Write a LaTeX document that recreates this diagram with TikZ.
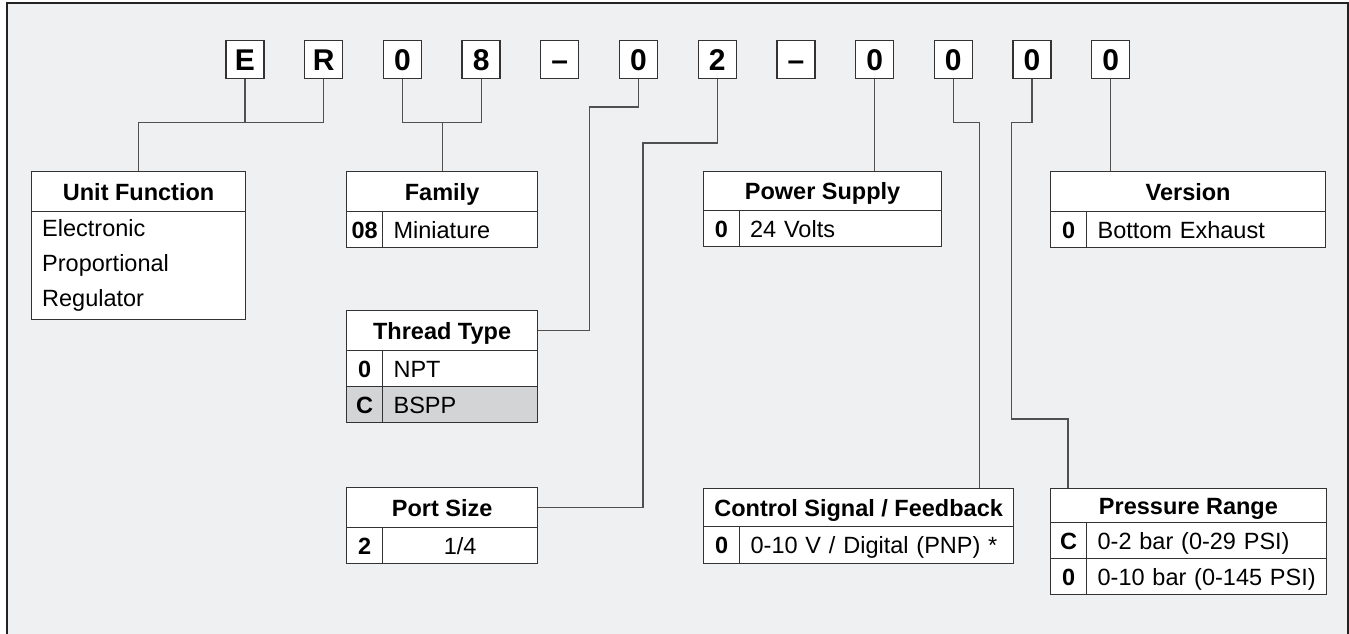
\documentclass[tikz,border=0pt]{standalone}
\usepackage{fontspec}
\setmainfont{Liberation Sans}
\definecolor{bg}{HTML}{EFF0F2}
\definecolor{boxc}{HTML}{333333}
\definecolor{linec}{HTML}{505050}
\definecolor{rowgray}{HTML}{D3D4D6}
\definecolor{framec}{HTML}{222222}
\newcommand\tabfont{\fontsize{23.5}{28}\selectfont}
\newcommand\letterfont{\fontsize{30}{34}\selectfont\bfseries}
\tikzset{
  codebox/.style={draw=boxc, fill=white, line width=1.3pt, inner sep=0pt,
    minimum size=38pt, font=\letterfont, text height=21.5pt, text depth=0pt},
  cellbase/.style={draw=boxc, fill=white, line width=1.2pt, inner sep=0pt,
    anchor=north west, text height=22pt, text depth=5.2pt},
  hdr/.style={cellbase, font=\tabfont\bfseries},
  codec/.style={cellbase, font=\tabfont\bfseries, minimum width=36pt, minimum height=36pt},
  desc/.style={cellbase, font=\tabfont, inner xsep=11pt, minimum height=36pt,
    text width=#1, align=left},
  plain/.style={font=\tabfont, inner sep=0pt, anchor=base west},
  conn/.style={draw=linec, line width=1.1pt},
}
\begin{document}
\begin{tikzpicture}[x=1pt,y=-1pt]
\useasboundingbox (0,0) rectangle (1349,634);
\fill[bg] (7,3) rectangle (1348,634);
\draw[framec, line width=2.6pt] (7,640) -- (7,3) -- (1348,3) -- (1348,640);

% code letters
\foreach \t [count=\i from 0] in {E,R,0,8,–,0,2,–,0,0,0,0}
  \node[codebox] (c\i) at (245+78.7*\i, 59.7) {\t};

% Unit Function
\node[hdr, minimum width=214pt, minimum height=40pt] (ufH) at (31,171) {Unit Function};
\node[cellbase, minimum width=214pt, minimum height=108pt] (ufB) at (31,211) {};
\node[plain] (uf1) at (42,236.7) {Electronic};
\node[plain] (uf2) at (42,271.7) {Proportional};
\node[plain] (uf3) at (42,306.7) {Regulator};

% Family
\node[hdr, minimum width=191pt, minimum height=40pt] (famH) at (346,171) {Family};
\node[codec] (famC) at (346,211) {08};
\node[desc=133pt] (famD) at (382,211) {\mbox{Miniature}};

% Thread Type
\node[hdr, minimum width=191pt, minimum height=40pt] (thrH) at (346,310) {Thread Type};
\node[codec] (thrC1) at (346,350) {0};
\node[desc=133pt] (thrD1) at (382,350) {\mbox{NPT}};
\node[codec, fill=rowgray] (thrC2) at (346,386) {C};
\node[desc=133pt, fill=rowgray] (thrD2) at (382,386) {\mbox{BSPP}};

% Port Size
\node[hdr, minimum width=191pt, minimum height=40pt] (portH) at (346,487) {Port Size};
\node[codec] (portC) at (346,527) {2};
\node[cellbase, font=\tabfont, minimum width=155pt, minimum height=36pt] (portD) at (382,527) {1/4};

% Power Supply
\node[hdr, minimum width=238pt, minimum height=39pt] (powH) at (703,171) {Power Supply};
\node[codec, minimum width=35.5pt] (powC) at (703,210) {0};
\node[desc=180.5pt] (powD) at (738.5,210) {\mbox{24 Volts}};

% Control Signal / Feedback
\node[hdr, minimum width=310pt, minimum height=38pt] (ctlH) at (703,488) {Control Signal / Feedback};
\node[codec, minimum height=37pt] (ctlC) at (703,526) {0};
\node[desc=252pt, minimum height=37pt] (ctlD) at (739,526) {\mbox{0-10 V / Digital (PNP) *}};

% Version
\node[hdr, minimum width=275pt, minimum height=40pt] (verH) at (1050,171) {Version};
\node[codec] (verC) at (1050,211) {0};
\node[desc=217pt] (verD) at (1086,211) {\mbox{Bottom Exhaust}};

% Pressure Range
\node[hdr, minimum width=275.7pt, minimum height=34pt] (prsH) at (1050,488) {Pressure Range};
\node[codec] (prsC1) at (1050,522) {C};
\node[desc=217.7pt] (prsD1) at (1086,522) {\mbox{0-2 bar (0-29 PSI)}};
\node[codec] (prsC2) at (1050,558) {0};
\node[desc=217.7pt] (prsD2) at (1086,558) {\mbox{0-10 bar (0-145 PSI)}};

% bend points
\coordinate (bThr) at (589.5,107);
\coordinate (bPort) at (643,143);
\coordinate (bCtl) at (979.5,122.7);
\coordinate (bPrs1) at (1011.6,122.7);
\coordinate (bPrs2) at (1068,419);

% connectors
\draw[conn] (c0.south) -- (c0.south |- 0,122.7);
\draw[conn] (ufH.north) |- (c1.south |- 0,122.7) -- (c1.south);
\draw[conn] (c2.south) |- (c3.south |- 0,122.7) -- (c3.south);
\draw[conn] (famH.north) -- (famH.north |- 0,122.7);
\draw[conn] (c5.south) |- (bThr) |- (thrH.east);
\draw[conn] (c6.south) |- (bPort) |- (portH.east);
\draw[conn] (c8.south) -- (c8.south |- powH.north);
\draw[conn] (c9.south) |- (bCtl) -- (bCtl |- ctlH.north);
\draw[conn] (c10.south) |- (bPrs1) |- (bPrs2) -- (bPrs2 |- prsH.north);
\draw[conn] (c11.south) -- (c11.south |- verH.north);
\end{tikzpicture}
\end{document}
